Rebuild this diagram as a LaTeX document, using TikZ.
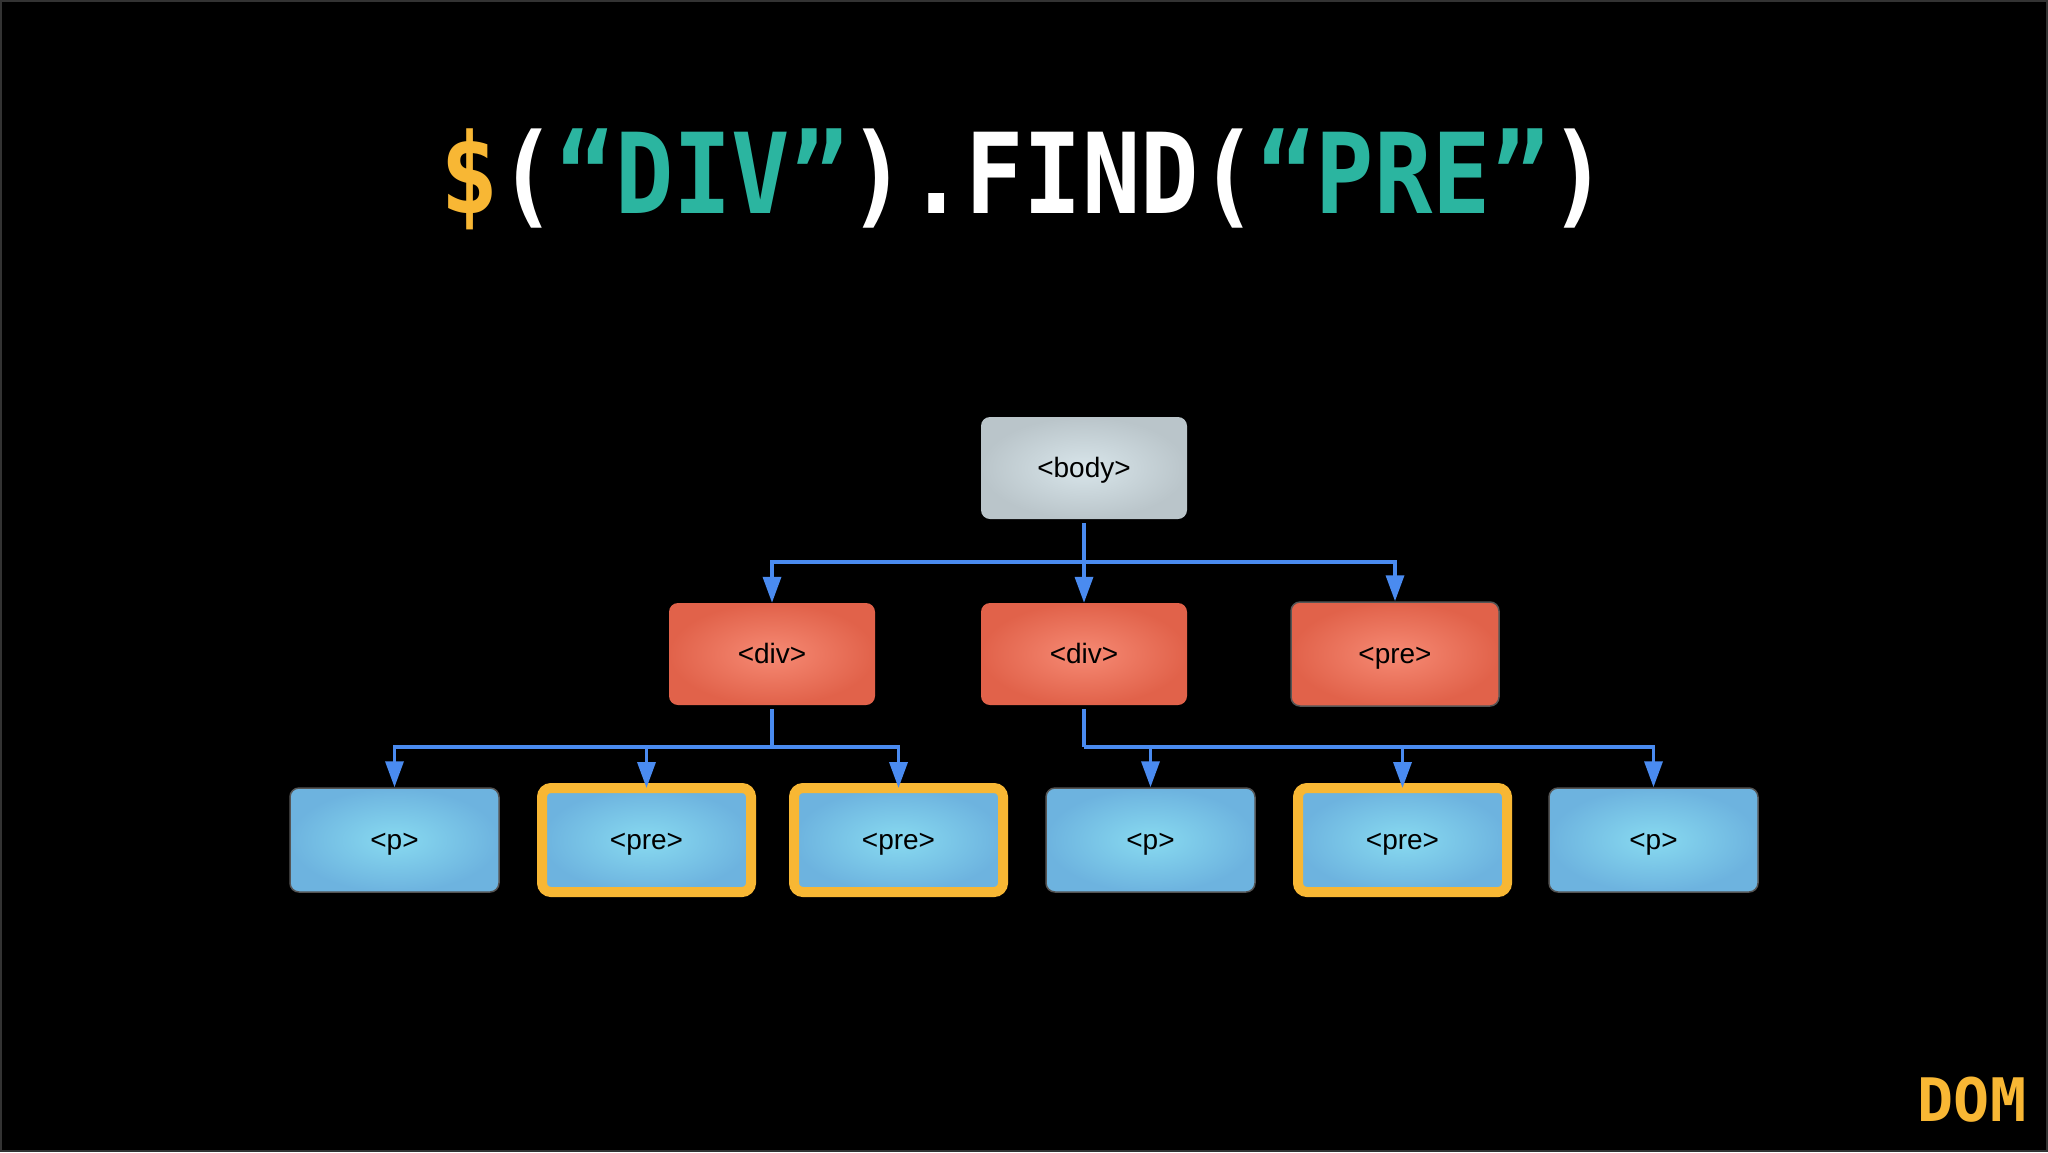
\documentclass[tikz,border=0pt]{standalone}
\usepackage{fontspec}
\usepackage{graphicx}
\setmainfont{Liberation Sans}
\newfontfamily\monofont{DejaVu Sans Mono}
\usetikzlibrary{arrows.meta}
\definecolor{dorange}{HTML}{F8B734}
\definecolor{tealc}{HTML}{2BB5A0}
\definecolor{arrowblue}{HTML}{4A8BF0}
\definecolor{greyin}{HTML}{D8E5EA}
\definecolor{greyout}{HTML}{BAC5CA}
\definecolor{redin}{HTML}{F68A74}
\definecolor{redout}{HTML}{E1624A}
\definecolor{bluein}{HTML}{88DAF0}
\definecolor{blueout}{HTML}{6DB3DF}
\definecolor{edgegrey}{HTML}{555555}
\begin{document}
\begin{tikzpicture}[x=1pt,y=-1pt,
  tagbox/.style={rounded corners=9pt, minimum width=206pt, minimum height=102pt,
    font=\fontsize{28}{30}\selectfont, text=black, inner sep=0pt,
    text height=22pt, text depth=3pt},
  greybox/.style={tagbox, inner color=greyin, outer color=greyout},
  redbox/.style={tagbox, inner color=redin, outer color=redout},
  bluebox/.style={tagbox, minimum width=209pt, minimum height=104pt,
    inner color=bluein, outer color=blueout, draw=edgegrey, line width=1.5pt},
  hilite/.style={draw=dorange, line width=10pt},
  link/.style={draw=arrowblue, line width=3.5pt},
  arr/.style={link, -{Triangle[length=26pt,width=18pt]}}]
\useasboundingbox (0,0) rectangle (2048,1152);
\fill[black] (0,0) rectangle (2048,1152);
\draw[draw=black!80!white, line width=2pt] (1,1) rectangle (2047,1151);

\node[text=white, font=\monofont\bfseries\fontsize{97}{100}\selectfont] (title) at (1024,179)
  {\scalebox{1}[1.15]{\textcolor{dorange}{\$}(\textcolor{tealc}{“DIV”}).FIND(\textcolor{tealc}{“PRE”})}};

\node[greybox] (body) at (1084,468) {<body>};
\node[redbox] (div1) at (772,654) {<div>};
\node[redbox] (div2) at (1084,654) {<div>};
\node[redbox, draw=edgegrey, line width=1.5pt, minimum width=208pt, minimum height=104pt] (pre0) at (1395,654) {<pre>};

\node[bluebox] (p1) at (394.5,840) {<p>};
\node[bluebox, hilite] (pre1) at (646.5,840) {<pre>};
\node[bluebox, hilite] (pre2) at (898.5,840) {<pre>};
\node[bluebox] (p2) at (1150.5,840) {<p>};
\node[bluebox, hilite] (pre3) at (1402.5,840) {<pre>};
\node[bluebox] (p3) at (1653.5,840) {<p>};

\coordinate (j0) at (1084,562);
\coordinate (j1) at (772,747);
\coordinate (j2) at (1084,747);

\draw[link] ([yshift=-4pt]body.south) -- (j0);
\draw[arr] (j0) -| (div1.north);
\draw[arr] (j0) -- (div2.north);
\draw[arr] (j0) -| (pre0.north);

\draw[link] ([yshift=-4pt]div1.south) -- (j1);
\draw[arr] (j1) -| (p1.north);
\draw[arr] (j1) -| ([yshift=-5pt]pre1.north);
\draw[arr] (j1) -| ([yshift=-5pt]pre2.north);

\draw[link] ([yshift=-4pt]div2.south) -- (j2);
\draw[arr] (j2) -| (p2.north);
\draw[arr] (j2) -| ([yshift=-5pt]pre3.north);
\draw[arr] (j2) -| (p3.north);

\node[text=dorange, font=\monofont\bfseries\fontsize{60}{62}\selectfont] (dom) at (1972,1100) {DOM};
\end{tikzpicture}
\end{document}
